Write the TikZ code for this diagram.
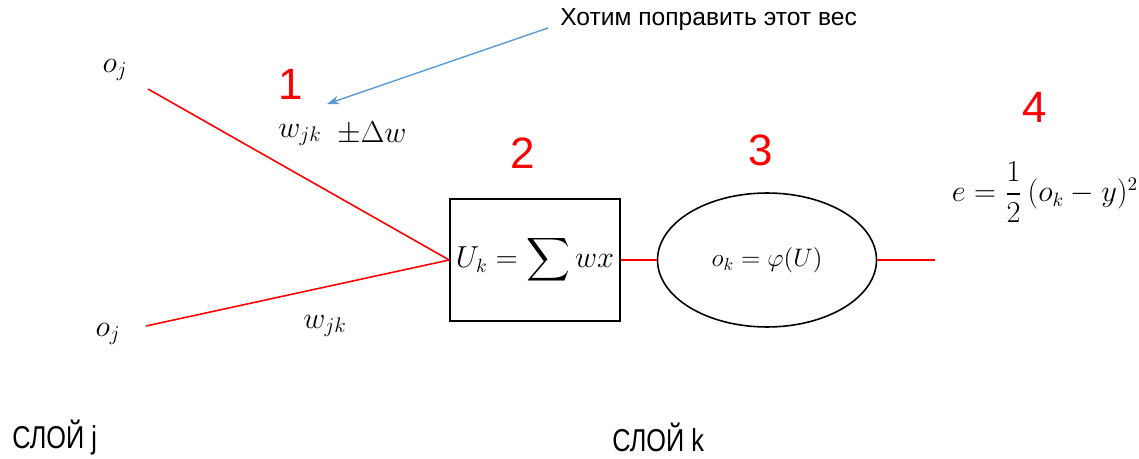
\documentclass[tikz,border=0pt]{standalone}
\usepackage{amsmath}
\usepackage{fontspec}
\newfontfamily\labelfont{Liberation Sans}
\definecolor{netred}{HTML}{FF0000}
\definecolor{hintblue}{HTML}{5B9BD5}
\usetikzlibrary{arrows.meta,positioning,shapes.geometric}

\begin{document}
\begin{tikzpicture}[x=0.02cm,y=-0.02cm,
  wire/.style={draw=netred,line width=0.9pt},
  stagenum/.style={text=netred,font=\labelfont\fontsize{25}{28}\selectfont},
  mathlbl/.style={font=\fontsize{18}{20}\selectfont,inner sep=0pt},
  layerlbl/.style={font=\labelfont\fontsize{18}{21}\selectfont,anchor=west,inner sep=0pt}]
\useasboundingbox (0,0) rectangle (1139,459);
% inputs
\node[mathlbl] (oj1) at (115,70) {$o_j$};
\node[mathlbl] (oj2) at (108,334) {$o_j$};
\coordinate (in1) at (148,89);
\coordinate (in2) at (146,326);
% summation box and activation
\node[draw,line width=0.9pt,minimum width=3.4cm,minimum height=2.44cm,
  font=\fontsize{16}{18}\selectfont] (sum) at (535,260) {$U_k=\displaystyle\sum wx$};
\node[draw,ellipse,line width=0.9pt,minimum width=4.38cm,minimum height=2.68cm,
  font=\fontsize{14}{16}\selectfont] (act) at (767,260) {$o_k=\varphi(U)$};
\coordinate (out) at (935,260);
\draw[wire] (in1) -- (sum.west);
\draw[wire] (in2) -- (sum.west);
\draw[wire] (sum.east) -- (act.west);
\draw[wire] (act.east) -- (out);
% weights
\node[mathlbl] (w1) at (300,135) {$w_{jk}$};
\node[mathlbl,anchor=west] (dw) at (337,133) {$\pm\Delta w$};
\node[mathlbl] (w2) at (325,326) {$w_{jk}$};
\node[font=\fontsize{16}{18}\selectfont,inner sep=0pt] (err) at (1045,192) {$e=\dfrac{1}{2}\,(o_k-y)^2$};
% stage numbers
\node[stagenum] (n1) at (291,84) {1};
\node[stagenum] (n2) at (523,153) {2};
\node[stagenum] (n3) at (761,150) {3};
\node[stagenum] (n4) at (1035,107) {4};
% hint
\node[font=\labelfont\fontsize{14}{16}\selectfont,anchor=west,inner sep=0pt] (hint) at (560,20) {Хотим поправить этот вес};
\coordinate (tip) at (327,104);
\draw[hintblue,line width=0.8pt,-{Stealth[length=7pt,width=5pt]}] (548,28) -- (tip);
% layers
\node[layerlbl] (lj) at (12,437) {\scalebox{0.8}[1]{СЛОЙ j}};
\node[layerlbl] (lk) at (612,437) {\scalebox{0.8}[1]{СЛОЙ k}};
\end{tikzpicture}
\end{document}
